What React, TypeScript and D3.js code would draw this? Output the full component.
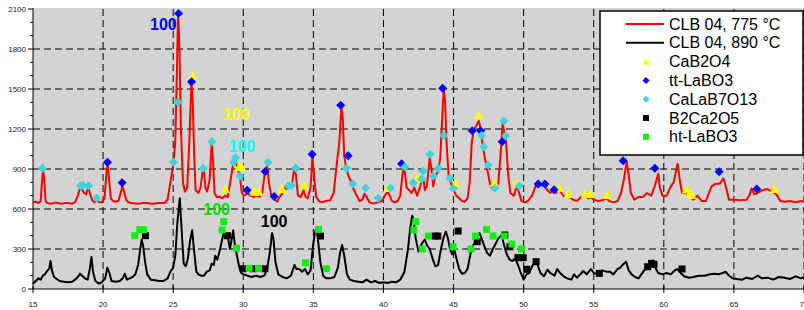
import * as d3 from 'd3';
import React from 'react';

// 2-theta / intensity pairs
const red775: [number, number][] = [
  [15.0, 650], [15.2, 655], [15.4, 645], [15.55, 660], [15.65, 820], [15.72, 900], [15.8, 820], [15.9, 660],
  [16.0, 645], [16.3, 640], [16.6, 648], [17.0, 640], [17.4, 646], [17.8, 640], [18.0, 652], [18.2, 700],
  [18.35, 760], [18.5, 745], [18.65, 720], [18.8, 710], [18.95, 765], [19.1, 700], [19.25, 660], [19.4, 650],
  [19.55, 675], [19.7, 650], [19.9, 650], [20.1, 680], [20.25, 880], [20.33, 940], [20.45, 800], [20.55, 680],
  [20.7, 660], [20.9, 655], [21.1, 660], [21.25, 720], [21.38, 770], [21.5, 730], [21.65, 670], [21.8, 650],
  [22.0, 645], [22.5, 640], [23.0, 646], [23.5, 640], [24.0, 645], [24.4, 645], [24.6, 670], [24.8, 800],
  [25.0, 930], [25.15, 1100], [25.28, 1700], [25.35, 2060], [25.45, 1800], [25.55, 1200], [25.7, 800],
  [25.83, 730], [26.0, 760], [26.15, 1100], [26.3, 1550], [26.4, 1400], [26.5, 1000], [26.6, 740],
  [26.8, 720], [26.95, 760], [27.1, 880], [27.18, 900], [27.3, 760], [27.42, 730], [27.6, 820], [27.75, 1100],
  [27.85, 950], [27.95, 720], [28.1, 690], [28.3, 692], [28.5, 680], [28.7, 700], [28.9, 690], [29.1, 820],
  [29.3, 950], [29.45, 960], [29.6, 900], [29.75, 850], [29.9, 720], [30.05, 700], [30.3, 720], [30.5, 700],
  [30.75, 690], [31.0, 700], [31.15, 690], [31.35, 720], [31.55, 880], [31.7, 920], [31.85, 780], [32.0, 700],
  [32.2, 680], [32.4, 655], [32.6, 690], [32.8, 720], [32.95, 760], [33.1, 750], [33.3, 770], [33.5, 800],
  [33.62, 900], [33.75, 860], [33.9, 700], [34.1, 690], [34.3, 740], [34.45, 690], [34.6, 680], [34.8, 760],
  [34.93, 990], [35.05, 850], [35.2, 690], [35.4, 660], [35.6, 650], [35.9, 660], [36.2, 665], [36.45, 720],
  [36.65, 920], [36.85, 1100], [37.0, 1360], [37.1, 1280], [37.2, 1000], [37.35, 900], [37.5, 850],
  [37.7, 800], [37.9, 740], [38.1, 700], [38.3, 660], [38.5, 670], [38.65, 715], [38.8, 690], [39.0, 650],
  [39.3, 640], [39.6, 650], [39.9, 660], [40.1, 700], [40.3, 730], [40.45, 700], [40.6, 660], [40.8, 650],
  [41.0, 660], [41.2, 700], [41.38, 880], [41.5, 900], [41.65, 760], [41.85, 740], [42.0, 720], [42.2, 760],
  [42.4, 700], [42.6, 760], [42.75, 820], [42.85, 830], [42.95, 740], [43.1, 770], [43.3, 990], [43.45, 880],
  [43.55, 770], [43.7, 850], [43.9, 880], [44.05, 980], [44.2, 1300], [44.3, 1500], [44.4, 1400],
  [44.5, 1100], [44.65, 850], [44.8, 800], [45.0, 740], [45.2, 700], [45.4, 680], [45.6, 660], [45.8, 655],
  [46.0, 680], [46.15, 800], [46.3, 1100], [46.45, 1200], [46.6, 1220], [46.8, 1260], [46.95, 1200],
  [47.05, 1100], [47.2, 1000], [47.4, 900], [47.6, 790], [47.75, 750], [47.9, 770], [48.0, 740], [48.2, 800],
  [48.35, 1000], [48.5, 1250], [48.6, 1180], [48.75, 1100], [48.9, 850], [49.05, 720], [49.3, 700],
  [49.5, 770], [49.65, 730], [49.85, 660], [50.1, 650], [50.3, 660], [50.6, 700], [50.85, 770], [51.05, 790],
  [51.25, 780], [51.5, 770], [51.7, 740], [51.9, 720], [52.1, 740], [52.3, 720], [52.5, 750], [52.7, 720],
  [52.9, 690], [53.1, 700], [53.3, 690], [53.5, 670], [53.8, 660], [54.1, 690], [54.4, 700], [54.6, 680],
  [54.8, 690], [55.0, 670], [55.3, 660], [55.6, 665], [55.9, 680], [56.1, 660], [56.4, 650], [56.7, 660],
  [56.95, 720], [57.15, 820], [57.35, 955], [57.5, 850], [57.65, 720], [57.9, 670], [58.2, 690], [58.5, 690],
  [58.8, 720], [59.1, 700], [59.35, 770], [59.6, 865], [59.72, 760], [59.9, 700], [60.2, 700], [60.45, 760],
  [60.7, 800], [60.98, 940], [61.15, 810], [61.3, 720], [61.55, 720], [61.8, 700], [62.1, 670], [62.4, 700],
  [62.7, 660], [63.0, 660], [63.4, 770], [63.7, 790], [64.0, 790], [64.25, 830], [64.45, 760], [64.65, 670],
  [65.0, 670], [65.5, 665], [65.9, 670], [66.1, 700], [66.26, 755], [66.45, 710], [66.7, 720], [67.0, 740],
  [67.4, 750], [67.7, 730], [67.9, 720], [68.1, 700], [68.3, 660], [68.6, 655], [69.0, 660], [69.4, 650],
  [69.8, 660], [70.0, 655],
];

const black890: [number, number][] = [
  [15.0, 40], [15.2, 60], [15.4, 80], [15.55, 70], [15.7, 100], [15.85, 110], [16.0, 135], [16.15, 150],
  [16.25, 210], [16.35, 140], [16.5, 90], [16.7, 75], [16.9, 60], [17.2, 55], [17.5, 50], [17.8, 55],
  [18.0, 70], [18.2, 90], [18.35, 115], [18.5, 100], [18.7, 80], [18.9, 70], [19.05, 150], [19.17, 240],
  [19.28, 130], [19.45, 60], [19.7, 40], [19.9, 50], [20.15, 80], [20.3, 160], [20.45, 120], [20.6, 60],
  [20.9, 55], [21.2, 60], [21.4, 80], [21.55, 115], [21.7, 70], [21.9, 80], [22.1, 90], [22.3, 110],
  [22.5, 180], [22.65, 300], [22.75, 370], [22.85, 330], [23.0, 200], [23.15, 110], [23.4, 70], [23.7, 65],
  [24.0, 60], [24.3, 60], [24.6, 80], [24.8, 130], [25.0, 160], [25.15, 250], [25.3, 500], [25.47, 680],
  [25.6, 450], [25.75, 190], [25.9, 170], [26.05, 230], [26.2, 360], [26.35, 440], [26.5, 280], [26.65, 130],
  [26.8, 110], [27.0, 100], [27.2, 100], [27.4, 130], [27.6, 140], [27.75, 190], [27.9, 180], [28.0, 250],
  [28.15, 220], [28.3, 280], [28.45, 350], [28.6, 420], [28.75, 380], [28.9, 390], [29.05, 300],
  [29.15, 360], [29.28, 440], [29.4, 330], [29.55, 250], [29.7, 170], [29.85, 120], [30.0, 110], [30.3, 100],
  [30.6, 90], [30.9, 100], [31.2, 90], [31.5, 100], [31.7, 150], [31.9, 280], [32.05, 420], [32.15, 380],
  [32.3, 200], [32.5, 110], [32.8, 90], [33.1, 80], [33.4, 100], [33.65, 180], [33.8, 150], [34.0, 150],
  [34.2, 130], [34.4, 150], [34.6, 110], [34.8, 140], [34.95, 300], [35.1, 420], [35.22, 460], [35.35, 350],
  [35.5, 200], [35.7, 100], [35.9, 80], [36.2, 80], [36.5, 90], [36.75, 160], [36.9, 270], [37.05, 330],
  [37.2, 250], [37.4, 110], [37.6, 70], [37.9, 60], [38.2, 55], [38.5, 50], [38.8, 70], [39.1, 50],
  [39.4, 60], [39.7, 45], [40.0, 50], [40.3, 45], [40.6, 55], [40.9, 50], [41.2, 70], [41.5, 130],
  [41.75, 300], [41.9, 450], [42.05, 550], [42.15, 520], [42.3, 380], [42.5, 280], [42.65, 320], [42.8, 350],
  [42.95, 370], [43.1, 330], [43.3, 300], [43.5, 230], [43.7, 170], [43.9, 180], [44.1, 300], [44.3, 390],
  [44.45, 430], [44.6, 380], [44.75, 300], [44.9, 260], [45.05, 300], [45.2, 230], [45.4, 150], [45.6, 115],
  [45.8, 120], [46.0, 150], [46.2, 260], [46.4, 330], [46.55, 350], [46.7, 390], [46.85, 420], [47.0, 380],
  [47.2, 320], [47.4, 270], [47.6, 250], [47.8, 300], [48.0, 340], [48.2, 380], [48.43, 405], [48.6, 330],
  [48.8, 260], [49.0, 220], [49.2, 210], [49.4, 230], [49.6, 180], [49.8, 120], [50.0, 70], [50.2, 110],
  [50.4, 120], [50.6, 170], [50.8, 200], [51.0, 180], [51.2, 120], [51.45, 95], [51.7, 145], [51.9, 120],
  [52.2, 100], [52.4, 150], [52.6, 120], [52.85, 95], [53.1, 80], [53.4, 70], [53.6, 110], [53.8, 85],
  [54.05, 110], [54.25, 135], [54.5, 110], [54.8, 150], [55.0, 120], [55.3, 110], [55.6, 140], [55.9, 130],
  [56.15, 130], [56.4, 110], [56.7, 150], [56.9, 160], [57.05, 180], [57.3, 205], [57.5, 140], [57.7, 110],
  [57.95, 90], [58.2, 80], [58.4, 110], [58.6, 140], [58.8, 170], [59.0, 185], [59.2, 215], [59.4, 160],
  [59.6, 120], [59.9, 110], [60.2, 120], [60.5, 110], [60.8, 140], [60.98, 150], [61.2, 120], [61.45, 95],
  [61.8, 85], [62.1, 90], [62.5, 100], [62.9, 100], [63.3, 110], [63.6, 115], [63.9, 110], [64.2, 120],
  [64.4, 130], [64.6, 105], [64.9, 80], [65.2, 75], [65.6, 70], [65.9, 85], [66.3, 75], [66.7, 100],
  [67.0, 80], [67.4, 85], [67.8, 70], [68.2, 90], [68.6, 85], [69.0, 75], [69.4, 95], [69.8, 80], [70.0, 90],
];

const caB2O4: [number, number][] = [
  [26.4, 1600], [28.73, 750], [29.68, 915], [29.9, 915], [30.78, 730], [31.11, 730], [32.77, 750],
  [34.34, 775], [40.29, 757], [42.4, 830], [45.14, 792], [46.78, 1305], [47.9, 797], [49.54, 792],
  [52.54, 760], [53.18, 712], [54.4, 712], [54.77, 712], [55.99, 705], [61.6, 747], [61.85, 720],
  [62.0, 705], [67.9, 750],
];
const ttLaBO3: [number, number][] = [
  [20.31, 950], [21.36, 797], [25.38, 2067], [26.31, 1555], [30.28, 740], [31.56, 882], [32.2, 693],
  [34.91, 1010], [36.95, 1378], [37.48, 1000], [41.29, 940], [44.22, 1505], [46.33, 1187], [46.93, 1187],
  [48.47, 1105], [51.04, 787], [51.52, 787], [52.17, 745], [57.1, 962], [59.36, 905], [63.95, 880],
  [66.63, 750],
];
const caLaB7O13: [number, number][] = [
  [15.68, 905], [18.39, 775], [18.57, 775], [18.96, 775], [19.53, 680], [25.02, 950], [25.35, 1400],
  [27.14, 905], [27.76, 1105], [29.3, 950], [29.45, 985], [29.76, 847], [31.77, 950], [33.2, 775],
  [33.44, 775], [33.75, 905], [37.37, 905], [37.82, 787], [38.72, 757], [39.62, 680], [40.5, 757],
  [41.53, 917], [42.12, 797], [42.72, 825], [42.83, 885], [43.31, 1010], [43.55, 847], [43.9, 905],
  [44.31, 1152], [44.74, 830], [44.97, 755], [47.0, 1152], [47.16, 1067], [47.47, 930], [47.95, 755],
  [48.59, 1260], [48.73, 1150], [49.68, 772],
];
const b2Ca2O5: [number, number][] = [
  [23.02, 400], [28.87, 400], [29.99, 152], [30.7, 152], [31.54, 152], [35.51, 397], [43.67, 397],
  [43.88, 397], [45.33, 435], [46.69, 355], [48.66, 405], [49.02, 317], [49.6, 235], [49.97, 235],
  [50.22, 148], [50.89, 205], [55.4, 117], [58.85, 167], [59.12, 192], [59.3, 185], [61.3, 150],
];
const htLaBO3: [number, number][] = [
  [22.26, 400], [22.62, 445], [22.9, 445], [28.49, 442], [28.61, 505], [29.52, 305], [30.42, 155],
  [31.09, 155], [34.44, 197], [35.37, 447], [35.94, 152], [42.17, 442], [42.31, 505], [42.76, 300],
  [43.22, 397], [44.97, 317], [46.24, 300], [46.57, 397], [47.35, 447], [47.83, 397], [48.61, 397],
  [49.16, 337], [49.85, 300],
];

const xTicks = [15, 20, 25, 30, 35, 40, 45, 50, 55, 60, 65, 70];
const yTicks = [0, 300, 600, 900, 1200, 1500, 1800, 2100];

// "100" annotations: [2theta, intensity, colour]
const labels100: [number, number, string][] = [
  [24.3, 1945, '#0000ff'],
  [29.5, 1270, '#ffff00'],
  [29.9, 1030, '#00ffff'],
  [28.1, 555, '#00dd00'],
  [32.2, 465, '#000000'],
];

const legendNames = ['CLB 04, 775 °C', 'CLB 04, 890 °C', 'CaB2O4', 'tt-LaBO3', 'CaLaB7O13', 'B2Ca2O5', 'ht-LaBO3'];

const W = 804;
const H = 310;
const left = 33;
const right = 804;
const top = 9;
const bottom = 289;

const x = d3.scaleLinear().domain([15, 70]).range([left, right]);
const y = d3.scaleLinear().domain([0, 2100]).range([bottom, top]);

const line = d3
  .line<[number, number]>()
  .x((d) => x(d[0]))
  .y((d) => y(d[1]));

const diamond = (r: number) => `M0,${-r}L${r},0L0,${r}L${-r},0Z`;
const square = (s: number) => `M${-s / 2},${-s / 2}h${s}v${s}h${-s}Z`;
const triangle = (s: number) => `M0,${-s * 0.55}L${s / 2},${s * 0.45}L${-s / 2},${s * 0.45}Z`;

const markerSets = [
  { data: caB2O4, color: '#ffff00', path: triangle(9), legend: triangle(7) },
  { data: ttLaBO3, color: '#0000ff', path: diamond(4.5), legend: diamond(3.5) },
  { data: caLaB7O13, color: '#3fd3dc', path: diamond(4.5), legend: diamond(3.5) },
  { data: b2Ca2O5, color: '#000000', path: square(7), legend: square(6) },
  { data: htLaBO3, color: '#11ee11', path: square(7), legend: square(6) },
];

const App = () => {
  const minorY = d3.range(0, 2101, 100);
  return (
    <svg
      width={W}
      height={H}
      style={{ position: 'absolute', left: 0, top: 0, fontFamily: 'Arial, "Liberation Sans", sans-serif' }}
    >
      <rect x={0} y={0} width={W} height={H} fill="#fff" />
      <rect x={left} y={top - 1} width={right - left + 4} height={bottom - top + 1} fill="#d3d3d3" />
      {/* grid */}
      {yTicks.slice(1, -1).map((t) => (
        <line key={'gy' + t} x1={left} x2={W} y1={y(t)} y2={y(t)} stroke="#000" strokeDasharray="7,4" strokeWidth={1} />
      ))}
      {xTicks.slice(1).map((t) => (
        <line key={'gx' + t} x1={x(t)} x2={x(t)} y1={top} y2={bottom} stroke="#000" strokeDasharray="7,4" strokeWidth={1} />
      ))}
      {/* axes */}
      <line x1={left} x2={left} y1={top - 1} y2={bottom} stroke="#000" />
      <line x1={left} x2={W} y1={bottom} y2={bottom} stroke="#000" />
      {minorY.map((t) => (
        <line key={'my' + t} x1={left - (t % 300 === 0 ? 5 : 3)} x2={left} y1={y(t)} y2={y(t)} stroke="#000" />
      ))}
      {yTicks.map((t) => (
        <text key={'ly' + t} x={26} y={y(t) + 3} fontSize={8} textAnchor="end" fill="#222">
          {t}
        </text>
      ))}
      {xTicks.map((t) => (
        <g key={'lx' + t}>
          <line x1={x(t)} x2={x(t)} y1={bottom - 3} y2={bottom + 4} stroke="#000" />
          <text x={x(t)} y={307} fontSize={8} textAnchor="middle" fill="#222">
            {t}
          </text>
        </g>
      ))}
      {/* patterns */}
      <path d={line(red775) || ''} fill="none" stroke="#ff0000" strokeWidth={2} strokeLinejoin="round" />
      <path d={line(black890) || ''} fill="none" stroke="#000" strokeWidth={2} strokeLinejoin="round" />
      {markerSets.map((s, i) =>
        s.data.map((d, j) => (
          <path key={`m${i}-${j}`} d={s.path} transform={`translate(${x(d[0])},${y(d[1])})`} fill={s.color} />
        )),
      )}
      {labels100.map(([t, v, c], i) => (
        <text key={'l100' + i} x={x(t)} y={y(v)} fontSize={16} fontWeight="bold" fill={c} textAnchor="middle">
          100
        </text>
      ))}
      {/* legend */}
      <rect x={600} y={11} width={203} height={144} fill="#fff" stroke="#000" strokeWidth={1.5} />
      {legendNames.map((name, i) => {
        const cy = 24 + i * 18.8;
        return (
          <g key={'lg' + i}>
            {i < 2 ? (
              <line x1={626} x2={664} y1={cy} y2={cy} stroke={i === 0 ? '#ff0000' : '#000'} strokeWidth={2} />
            ) : (
              <path d={markerSets[i - 2].legend} transform={`translate(646,${cy})`} fill={markerSets[i - 2].color} />
            )}
            <text x={669} y={cy + 5.5} fontSize={16} fill="#000">
              {name}
            </text>
          </g>
        );
      })}
    </svg>
  );
};

export default App;
